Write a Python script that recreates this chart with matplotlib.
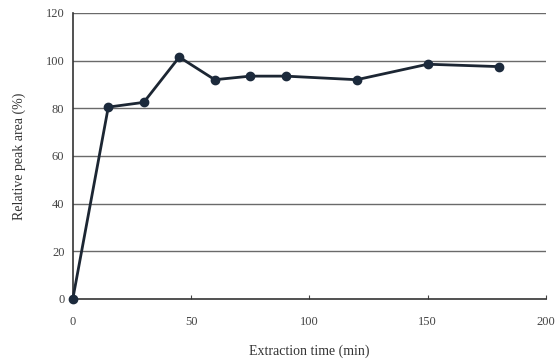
import matplotlib
matplotlib.use("Agg")
import matplotlib.pyplot as plt

# extraction time (min) vs relative peak area (%)
times = [0, 15, 30, 45, 60, 75, 90, 120, 150, 180]
peak_area = [0, 80.5, 82.5, 101.5, 92, 93.5, 93.5, 92, 98.5, 97.5]
xticks = [0, 50, 100, 150, 200]
yticks = [0, 20, 40, 60, 80, 100, 120]

plt.rcParams['font.family'] = ['Liberation Serif', 'DejaVu Serif']

fig = plt.figure(figsize=(5.6, 3.61), dpi=100)
ax = fig.add_axes([0.130, 0.172, 0.845, 0.792])

for y in yticks[1:]:
    ax.axhline(y, color='#6a6a6a', lw=1.0, zorder=1)

ax.plot(times, peak_area, color='#1c2633', lw=2.0, marker='o', ms=6,
        markerfacecolor='#1c2a3c', markeredgecolor='#1c2a3c', zorder=3,
        clip_on=False)

ax.set_xlim(0, 200)
ax.set_ylim(0, 120)
ax.set_xticks(xticks)
ax.set_yticks(yticks)
ax.tick_params(axis='x', direction='in', length=3, labelsize=9, colors='#444444', pad=12)
ax.tick_params(axis='y', length=0, labelsize=9, colors='#444444', pad=6)

for s in ['top', 'right']:
    ax.spines[s].set_visible(False)
ax.spines['left'].set_color('#333333')
ax.spines['bottom'].set_color('#333333')
ax.spines['left'].set_linewidth(1.2)
ax.spines['bottom'].set_linewidth(1.2)

ax.set_xlabel('Extraction time (min)', fontsize=10, color='#333333', labelpad=12)
ax.set_ylabel('Relative peak area (%)', fontsize=10, color='#333333', labelpad=14)

fig.savefig('out.png', dpi=100)
